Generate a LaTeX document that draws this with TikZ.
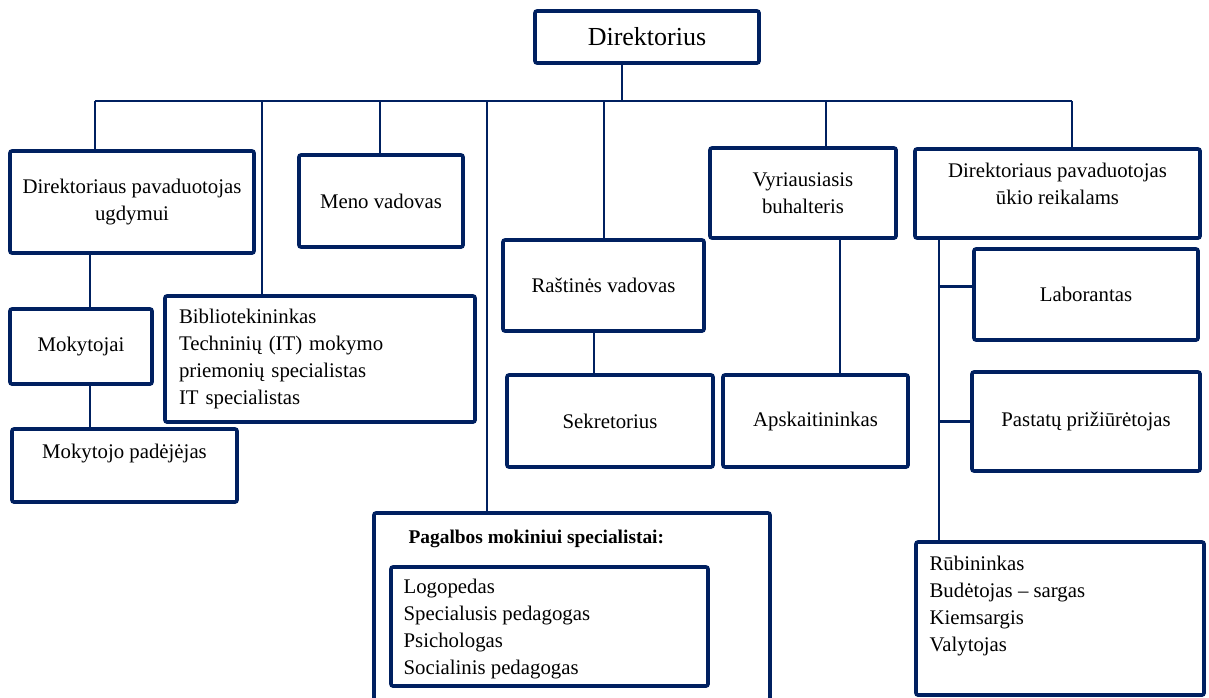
\documentclass[tikz,border=0pt]{standalone}
\usepackage{fontspec}
\setmainfont{Liberation Serif}
\usetikzlibrary{positioning}
\definecolor{navy}{HTML}{002060}

\tikzset{
  box/.style={draw=navy, line width=1.8pt, rounded corners=1pt, inner sep=0pt,
    align=center, font=\fontsize{10.4}{13.5}\selectfont},
  listbox/.style={box, align=left, inner xsep=7pt},
  txt/.style={inner sep=0pt, font=\fontsize{10.4}{13.5}\selectfont},
  link/.style={draw=navy, line width=1.1pt},
}

\begin{document}
\begin{tikzpicture}[x=0.5pt,y=-0.5pt]
\useasboundingbox (0,0) rectangle (1209,697);

% Director
\node[box, minimum width=112pt, minimum height=26pt, font=\fontsize{13}{15}\selectfont] (dir) at (647,37) {Direktorius};

% First row
\node[box, minimum width=122pt, minimum height=51pt] (dpu) at (132,202) {Direktoriaus pavaduotojas\\ugdymui};
\node[box, minimum width=82pt, minimum height=46pt] (meno) at (381,201) {Meno vadovas};
\node[box, minimum width=93pt, minimum height=45pt] (vyr) at (803,193) {Vyriausiasis\\buhalteris};
\node[box, minimum width=142.5pt, minimum height=44.5pt] (dpa) at (1057.5,193.5) {};
\node[txt, align=center, below=7.5pt of dpa.north] (dpaT) {Direktoriaus pavaduotojas\\ūkio reikalams};

% Teaching branch
\node[box, minimum width=71pt, minimum height=37.5pt] (mok) at (81,346.5) {Mokytojai};
\node[box, minimum width=112.5pt, minimum height=36.5pt] (mpad) at (124.5,465.5) {};
\node[txt, below=8pt of mpad.north] (mpadT) {Mokytojo padėjėjas};
\node[listbox, text width=141pt, minimum height=63pt] (bib) at (320,359)
  {Bibliotekininkas\\Techninių (IT) mokymo\\priemonių specialistas\\IT specialistas};

% Office and accounting
\node[box, minimum width=100.5pt, minimum height=45.5pt] (rast) at (603.5,285.5) {Raštinės vadovas};
\node[box, minimum width=103pt, minimum height=46pt] (sek) at (610,421) {Sekretorius};
\node[box, minimum width=92.5pt, minimum height=46pt] (apsk) at (815.5,421) {Apskaitininkas};

% Support specialists
\node[box, minimum width=198pt, minimum height=103.5pt] (pag) at (572,616.5) {};
\node[txt, font=\bfseries\fontsize{9.7}{12}\selectfont, anchor=north west] (pagT)
  at ([xshift=18pt,yshift=-9pt]pag.north west) {Pagalbos mokiniui specialistai:};
\node[box, minimum width=158.5pt, minimum height=59.5pt] (pagIn) at (549.5,626.5) {};
\node[txt, align=left, anchor=north west] (pagInT) at ([xshift=7pt,yshift=-6.5pt]pagIn.north west)
  {Logopedas\\Specialusis pedagogas\\Psichologas\\Socialinis pedagogas};

% Household branch
\node[box, minimum width=112pt, minimum height=45.5pt] (lab) at (1086,294.5) {Laborantas};
\node[box, minimum width=114pt, minimum height=49.5pt] (pst) at (1086,421.5) {Pastatų prižiūrėtojas};
\node[box, minimum width=144pt, minimum height=76.5pt] (rub) at (1060,618.5) {};
\node[txt, align=left, anchor=north west] (rubT) at ([xshift=7.5pt,yshift=-7.5pt]rub.north west)
  {Rūbininkas\\Budėtojas -- sargas\\Kiemsargis\\Valytojas};

% Bus under the director
\coordinate (b0) at (622,101);
\coordinate (b1) at (95,101);
\coordinate (b2) at (262,101);
\coordinate (b3) at (380,101);
\coordinate (b4) at (487,101);
\coordinate (b5) at (604,101);
\coordinate (b6) at (826,101);
\coordinate (b7) at (1072,101);
\draw[link] (b0) -- (b0 |- dir.south);
\draw[link] (b1) -- (b7);
\draw[link] (b1) -- (b1 |- dpu.north);
\draw[link] (b2) -- (b2 |- bib.north);
\draw[link] (b3) -- (b3 |- meno.north);
\draw[link] (b4) -- (b4 |- pag.north);
\draw[link] (b5) -- (b5 |- rast.north);
\draw[link] (b6) -- (b6 |- vyr.north);
\draw[link] (b7) -- (b7 |- dpa.north);

% Lower links
\coordinate (mc) at ([xshift=4.5pt]mok.north);
\draw[link] (mc) -- (mc |- dpu.south);
\draw[link] (mc |- mok.south) -- (mc |- mpad.north);
\coordinate (rc) at ([xshift=-4.75pt]rast.south);
\draw[link] (rc) -- (rc |- sek.north);
\coordinate (vc) at ([xshift=18.5pt]vyr.south);
\draw[link] (vc) -- (vc |- apsk.north);

% Right column
\coordinate (dc) at ([xshift=-59.25pt]dpa.south);
\coordinate (labIn) at ([yshift=4pt]lab.west);
\draw[link] (dc) -- (dc |- rub.north);
\draw[link] (dc |- labIn) -- (labIn);
\draw[link] (dc |- pst.west) -- (pst.west);
\end{tikzpicture}
\end{document}
